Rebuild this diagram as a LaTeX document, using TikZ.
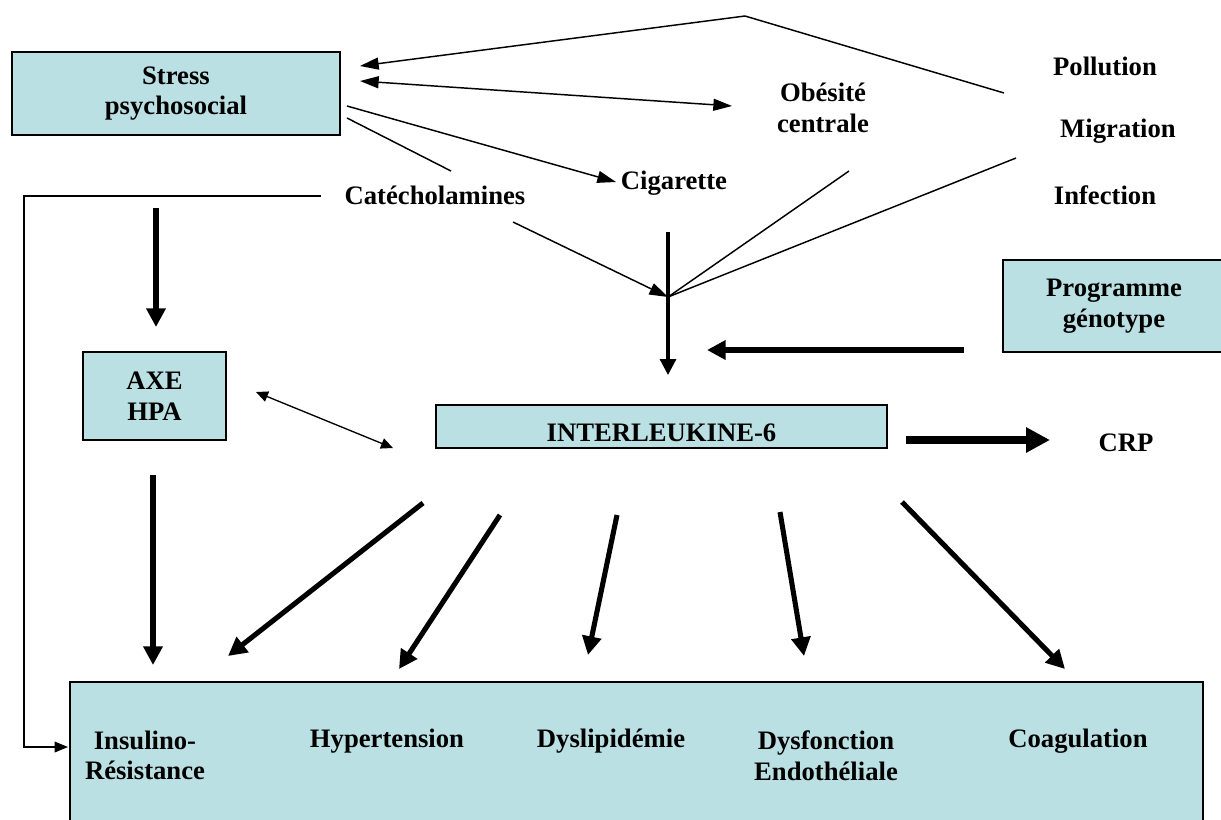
\documentclass[tikz,border=0pt]{standalone}
\usepackage{fontspec}
\setmainfont{Liberation Serif}
\usetikzlibrary{arrows.meta}
\definecolor{boxblue}{HTML}{BBE0E3}
\begin{document}
\begin{tikzpicture}[x=0.75pt,y=-0.75pt,
  box/.style={draw=black, line width=1.1pt, fill=boxblue, inner sep=0pt},
  lbl/.style={font=\fontsize{20}{23}\selectfont\bfseries, align=center, inner sep=0pt},
  thinln/.style={line width=1.1pt},
  thinarr/.style={line width=1.1pt, -{Triangle[length=14pt,width=9pt]}},
  midarr/.style={line width=2.4pt, -{Triangle[length=12pt,width=12pt]}},
  thickarr/.style={line width=3.8pt, -{Triangle[length=14pt,width=14pt]}},
  bigarr/.style={line width=5.5pt, -{Triangle[length=18pt,width=18pt]}},
  dblarr/.style={line width=1pt, {Triangle[length=9pt,width=8pt]}-{Triangle[length=9pt,width=8pt]}},
]
\useasboundingbox (0,0) rectangle (1221,819);
\fill[white] (0,0) rectangle (1221,819);

% boxes
\node[box, lbl, minimum width=246pt, minimum height=62.25pt] (stress) at (176,93.5) {Stress\\psychosocial};
\node[box, lbl, minimum width=107.25pt, minimum height=66pt] (axe) at (154.5,396) {AXE\\HPA};
\node[box, lbl, minimum width=338.25pt, minimum height=32.25pt] (il6) at (661.5,426.5) {\raisebox{-11pt}[0pt][0pt]{INTERLEUKINE-6}};
\node[box, lbl, minimum width=166.5pt, minimum height=69pt] (prog) at (1114,306) {Programme\\génotype};
\node[box, minimum width=849.75pt, minimum height=111pt] (bottom) at (636.5,756) {};

% free labels
\node[lbl] (obesite) at (823,108) {Obésité\\centrale};
\node[lbl] (cigarette) at (674,183) {Cigarette};
\node[lbl] (catechol) at (435,195) {Catécholamines};
\node[lbl] (pollution) at (1105,66) {Pollution};
\node[lbl] (migration) at (1118,131) {Migration};
\node[lbl] (infection) at (1105,195) {Infection};
\node[lbl] (crp) at (1126,443) {CRP};
\node[lbl] (insulino) at (145,755.5) {Insulino-\\Résistance};
\node[lbl] (hypert) at (387,741) {Hypertension};
\node[lbl] (dyslip) at (611,741) {Dyslipidémie};
\node[lbl] (dysf) at (826,755.5) {Dysfonction\\Endothéliale};
\node[lbl] (coag) at (1078,741) {Coagulation};

% coordinates
\coordinate (apex) at (745,16);
\coordinate (apexR) at (1004,93);
\coordinate (sA) at (360,66);
\coordinate (sB) at (360,81);
\coordinate (oB) at (732,106);
\coordinate (sC) at (347,106);
\coordinate (cC) at (616,182);
\coordinate (sD) at (347,118);
\coordinate (cD) at (451,171);
\coordinate (catL) at (321,196);
\coordinate (cornerT) at (24,196);
\coordinate (cornerB) at (24,747);
\coordinate (botIn) at (68,747);
\coordinate (axeTop1) at (156,208);
\coordinate (axeTop2) at (156,327);
\coordinate (J) at (668,297);
\coordinate (catR) at (513,222);
\coordinate (obL) at (849,171);
\coordinate (migL) at (1016,158);
\coordinate (v1) at (668,232);
\coordinate (v2) at (668,375);
\coordinate (pg1) at (964,350);
\coordinate (pg2) at (707,350);
\coordinate (ax1) at (256,392);
\coordinate (ax2) at (393,448);
\coordinate (crp1) at (906,440);
\coordinate (crp2) at (1050,440);
\coordinate (b0s) at (153,475);
\coordinate (b0e) at (153,665);
\coordinate (b1s) at (423,503);
\coordinate (b1e) at (228,656);
\coordinate (b2s) at (500,515);
\coordinate (b2e) at (399,669);
\coordinate (b3s) at (617,515);
\coordinate (b3e) at (588,655);
\coordinate (b4s) at (780,512);
\coordinate (b4e) at (804,656);
\coordinate (b5s) at (902,502);
\coordinate (b5e) at (1065,669);

% connectors
\draw[thinarr] (apexR) -- (apex) -- (sA);
\draw[line width=1.1pt, {Triangle[length=14pt,width=9pt]}-{Triangle[length=14pt,width=9pt]}] (sB) -- (oB);
\draw[thinarr] (sC) -- (cC);
\draw[thinln] (sD) -- (cD);
\draw[line width=1pt, -{Triangle[length=10pt,width=8pt]}] (catL) -- (cornerT) -- (cornerB) -- (botIn);
\draw[thickarr] (axeTop1) -- (axeTop2);
\draw[thinarr] (catR) -- (J);
\draw[thinln] (obL) -- (J);
\draw[thinln] (migL) -- (J);
\draw[midarr] (v1) -- (v2);
\draw[thickarr] (pg1) -- (pg2);
\draw[dblarr] (ax1) -- (ax2);
\draw[bigarr] (crp1) -- (crp2);
\draw[thickarr] (b0s) -- (b0e);
\draw[thickarr] (b1s) -- (b1e);
\draw[thickarr] (b2s) -- (b2e);
\draw[thickarr] (b3s) -- (b3e);
\draw[thickarr] (b4s) -- (b4e);
\draw[thickarr] (b5s) -- (b5e);
\end{tikzpicture}
\end{document}
